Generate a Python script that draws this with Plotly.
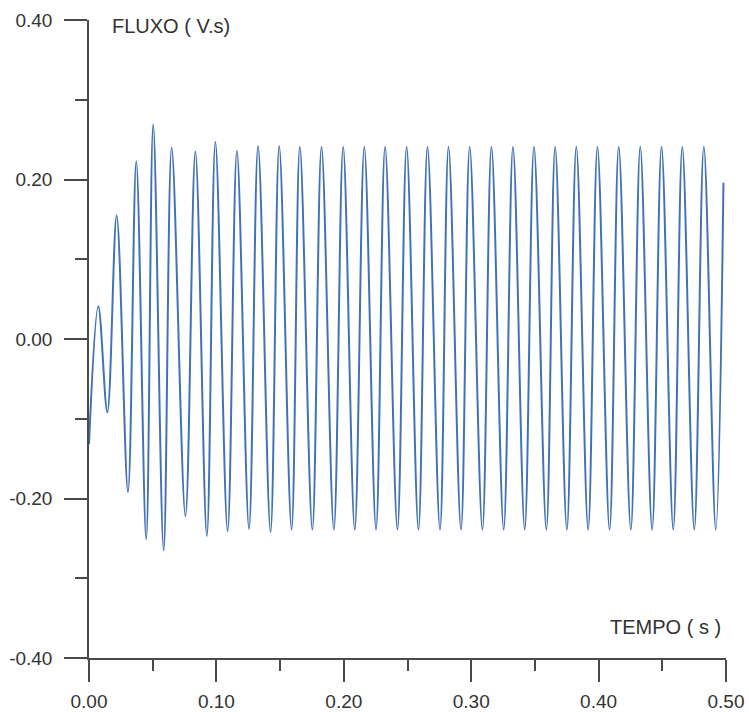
import plotly.graph_objects as go

# Extrema of the flux waveform (time in s, flux in V.s)
tempo = [
    0.0000, 0.0073, 0.0144, 0.0217, 0.0306, 0.0371, 0.0449, 0.0504, 0.0586, 0.0649,
    0.0757, 0.0835, 0.0925, 0.0992, 0.1088, 0.1161, 0.1256, 0.1327, 0.1425, 0.1493,
    0.1590, 0.1655, 0.1753, 0.1825, 0.1922, 0.1995, 0.2086, 0.2161, 0.2253, 0.2324,
    0.2421, 0.2493, 0.2586, 0.2657, 0.2755, 0.2822, 0.2920, 0.2988, 0.3088, 0.3159,
    0.3255, 0.3328, 0.3420, 0.3493, 0.3590, 0.3659, 0.3751, 0.3825, 0.3918, 0.3991,
    0.4086, 0.4158, 0.4253, 0.4327, 0.4420, 0.4494, 0.4586, 0.4657, 0.4751, 0.4826,
    0.4920, 0.4980,
]
fluxo = [
    -0.132, 0.041, -0.092, 0.155, -0.192, 0.223, -0.251, 0.269, -0.265, 0.240,
    -0.222, 0.235, -0.247, 0.247, -0.241, 0.236, -0.238, 0.242, -0.242, 0.242,
    -0.239, 0.241, -0.239, 0.241, -0.239, 0.241, -0.239, 0.241, -0.239, 0.241,
    -0.239, 0.241, -0.239, 0.241, -0.239, 0.241, -0.239, 0.241, -0.239, 0.241,
    -0.239, 0.241, -0.239, 0.241, -0.239, 0.241, -0.239, 0.241, -0.239, 0.241,
    -0.239, 0.241, -0.239, 0.241, -0.239, 0.241, -0.239, 0.241, -0.239, 0.241,
    -0.239, 0.196,
]

x_tickvals = [0.0, 0.1, 0.2, 0.3, 0.4, 0.5]
x_ticktext = ["0.00", "0.10", "0.20", "0.30", "0.40", "0.50"]
y_tickvals = [-0.4, -0.2, 0.0, 0.2, 0.4]
y_ticktext = ["-0.40", "-0.20", "0.00", "0.20", "0.40"]

axis_color = "#4a4a4a"
text_color = "#333333"
font_family = "Liberation Sans, Arial, sans-serif"

fig = go.Figure()
fig.add_trace(go.Scatter(
    x=tempo, y=fluxo, mode="lines",
    line=dict(color="#4272b6", width=2, shape="spline", smoothing=1.0),
    hoverinfo="x+y", showlegend=False,
))

fig.update_layout(
    width=749, height=712,
    margin=dict(l=89, r=23, t=20, b=54, autoexpand=False),
    paper_bgcolor="white", plot_bgcolor="white",
    font=dict(family=font_family, size=19, color=text_color),
    xaxis=dict(
        range=[0, 0.5], tickvals=x_tickvals, ticktext=x_ticktext,
        automargin=False,
        showgrid=False, zeroline=False, showline=True,
        linecolor=axis_color, linewidth=1.5,
        ticks="outside", ticklen=22, tickwidth=1.5, tickcolor=axis_color,
        ticklabelstandoff=3,
        minor=dict(dtick=0.05, tick0=0, ticks="outside", ticklen=11,
                   tickwidth=1.5, tickcolor=axis_color, showgrid=False),
        tickfont=dict(size=19, color=text_color),
    ),
    yaxis=dict(
        range=[-0.4, 0.4], tickvals=y_tickvals, ticktext=y_ticktext,
        automargin=False,
        showgrid=False, zeroline=False, showline=True,
        linecolor=axis_color, linewidth=1.5,
        ticks="outside", ticklen=23, tickwidth=1.5, tickcolor=axis_color,
        ticklabelstandoff=8,
        minor=dict(dtick=0.1, tick0=0, ticks="outside", ticklen=12,
                   tickwidth=1.5, tickcolor=axis_color, showgrid=False),
        tickfont=dict(size=19, color=text_color),
    ),
    annotations=[
        dict(text="FLUXO ( V.s)", xref="paper", yref="paper",
             x=0.033, y=0.99, xanchor="left", yanchor="middle",
             showarrow=False, font=dict(size=20, color=text_color)),
        dict(text="TEMPO ( s )", xref="paper", yref="paper",
             x=0.995, y=0.048, xanchor="right", yanchor="middle",
             showarrow=False, font=dict(size=20, color=text_color)),
    ],
)

fig.write_html(
    "out.html",
    config={"displayModeBar": False},
    post_script="document.body.style.margin='0';document.body.style.padding='0';"
                "document.documentElement.style.overflow='hidden';",
)
